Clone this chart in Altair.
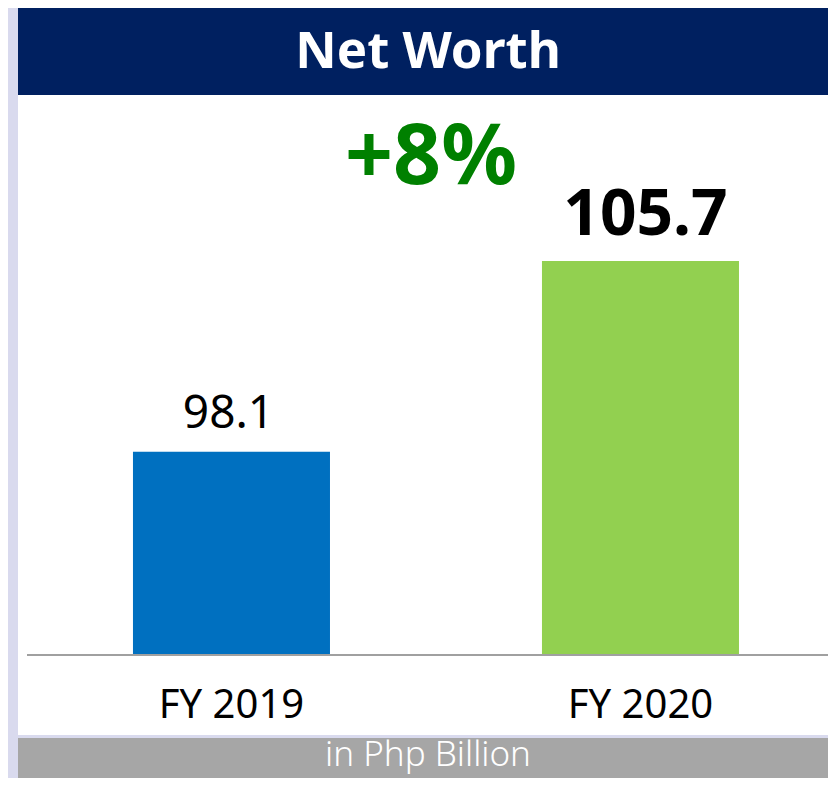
import altair as alt
import pandas as pd

# ---- data ----
categories = ["FY 2019", "FY 2020"]
values = [98.1, 105.7]
labels = ["98.1", "105.7"]
bar_colors = ["#0070C0", "#92D050"]
title_text = "Net Worth"
growth_text = "+8%"
unit_text = "in Php Billion"
axis_base = 90

df = pd.DataFrame({"cat": categories, "value": values, "label": labels,
                   "base": [axis_base] * len(categories)})
one = pd.DataFrame({"k": [1]})

FONT = "Noto Sans"
W, H = 820, 770

xscale = alt.Scale(domain=categories, paddingInner=0.5183, paddingOuter=0.2616, align=0.584)
# 25.1 px per unit, baseline value 90 at y=647
yscale = alt.Scale(domain=[90 - (H - 647) / 25.1, 90 + 647 / 25.1], zero=False, nice=False)

navy = alt.Chart(one).mark_rect(color="#002060").encode(
    x=alt.value(10), x2=alt.value(W), y=alt.value(0), y2=alt.value(87))
white = alt.Chart(one).mark_rect(color="#FFFFFF").encode(
    x=alt.value(10), x2=alt.value(W), y=alt.value(87), y2=alt.value(727))
grey = alt.Chart(one).mark_rect(color="#A6A6A6").encode(
    x=alt.value(10), x2=alt.value(W), y=alt.value(730), y2=alt.value(H))

X = alt.X("cat:N", scale=xscale, axis=None, sort=categories)
Y = alt.Y("value:Q", scale=yscale, axis=None)

bars = alt.Chart(df).mark_bar().encode(
    x=X, y=Y, y2="base:Q",
    color=alt.Color("cat:N", scale=alt.Scale(domain=categories, range=bar_colors), legend=None),
)

baseline = alt.Chart(df).mark_rule(color="#A0A0A0", strokeWidth=2).encode(
    x=alt.value(19), x2=alt.value(W), y=alt.Y("base:Q", scale=yscale, axis=None))

lab1 = alt.Chart(df).transform_filter(alt.datum.cat == categories[0]).mark_text(
    font=FONT, fontSize=46, color="#000000", baseline="alphabetic", dy=-24, dx=-3).encode(
    x=X, y=Y, text="label:N")
lab2 = alt.Chart(df).transform_filter(alt.datum.cat == categories[1]).mark_text(
    font=FONT, fontSize=64, fontWeight="bold", color="#000000", baseline="alphabetic", dy=-26, dx=5).encode(
    x=X, y=Y, text="label:N")

catlab = alt.Chart(df).mark_text(
    font=FONT, fontSize=40, color="#000000", baseline="alphabetic").encode(
    x=X, y=alt.value(710), text="cat:N")

title = alt.Chart(one).mark_text(
    font=FONT, fontSize=51, fontWeight="bold", color="#FFFFFF", baseline="alphabetic", text=title_text
).encode(x=alt.value(420), y=alt.value(60))

growth = alt.Chart(one).mark_text(
    font=FONT, fontSize=84, fontWeight="bold", color="#008000", baseline="alphabetic", text=growth_text
).encode(x=alt.value(423), y=alt.value(176))

unit = alt.Chart(one).mark_text(
    font=FONT, fontSize=35, fontWeight=300, color="#FFFFFF", baseline="alphabetic", text=unit_text
).encode(x=alt.value(420), y=alt.value(758))

chart = alt.layer(
    navy, white, grey, bars, baseline, lab1, lab2, catlab, title, growth, unit
).properties(
    width=W, height=H, padding=0, autosize="none", background="#D9DAEE"
).configure_view(stroke=None)

chart.save("out.html", embed_options={"renderer": "svg", "actions": False})
